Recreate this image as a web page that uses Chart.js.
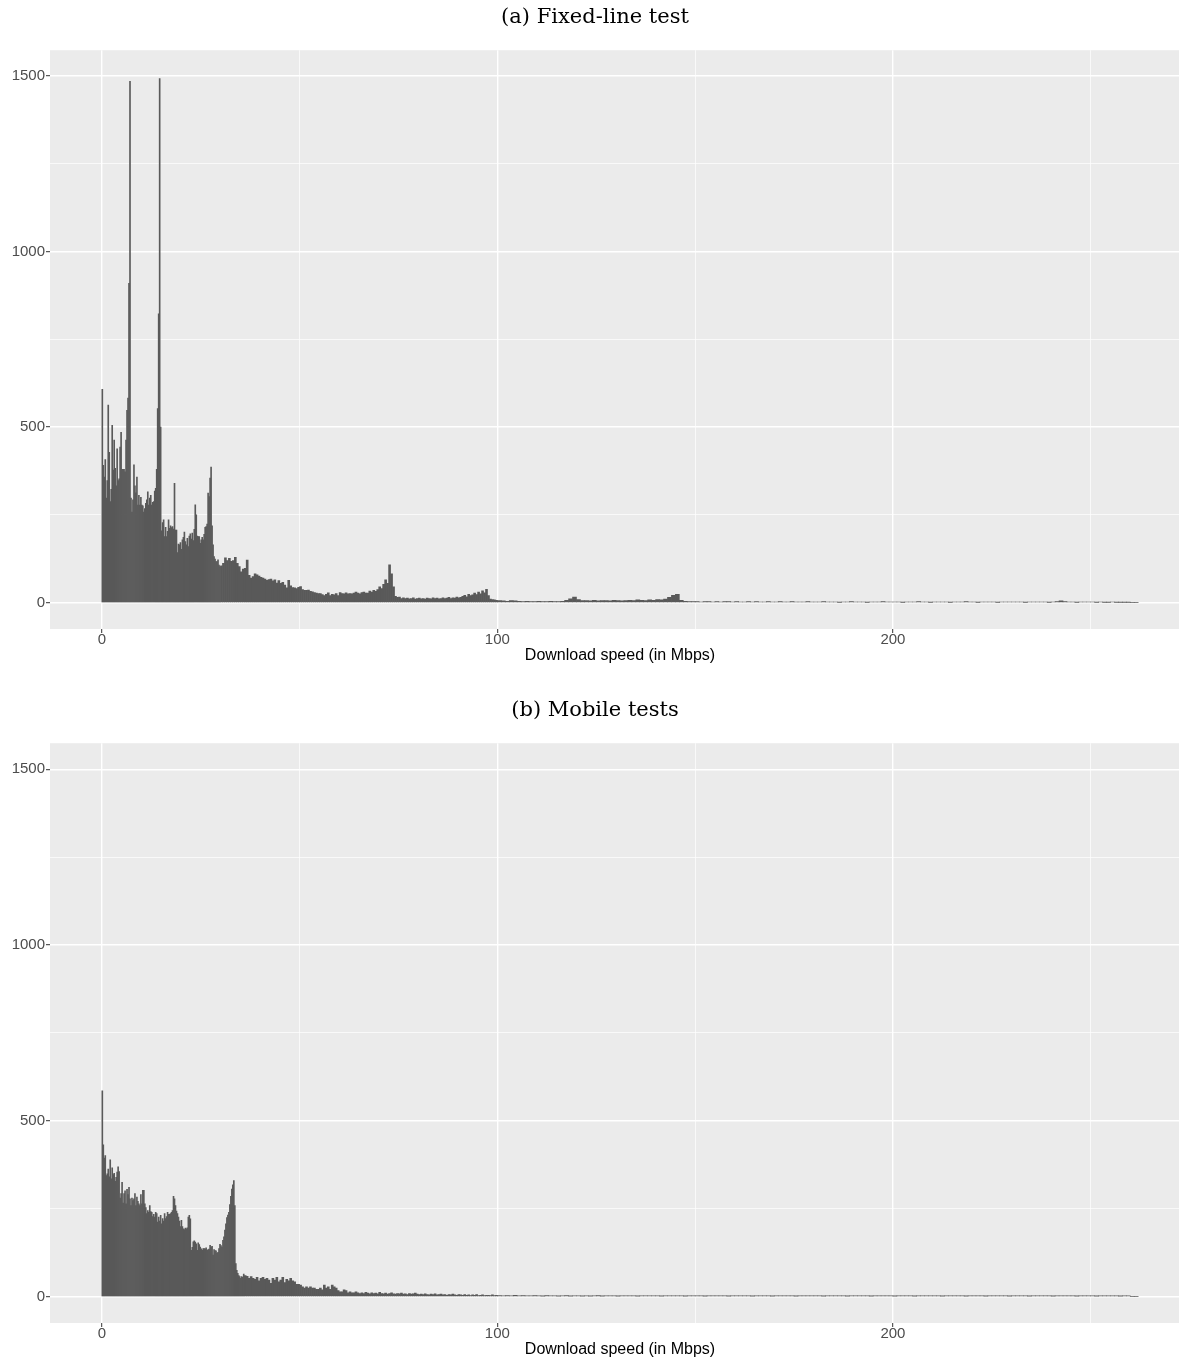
<!DOCTYPE html>
<html>
<head>
<meta charset="utf-8">
<script src="https://cdn.jsdelivr.net/npm/chart.js@4.4.1/dist/chart.umd.min.js"></script>
<style>
  html, body { margin: 0; padding: 0; background: #ffffff; overflow: hidden; }
  body { width: 1179px; height: 1361px; position: relative; }
  canvas { position: absolute; left: 0; }
  #fixedChart { top: 0; }
  #mobileChart { top: 679px; }
</style>
</head>
<body>
<canvas id="fixedChart" width="1190" height="667"></canvas>
<canvas id="mobileChart" width="1190" height="682"></canvas>
<script>
  // bin widths (Mbps) and where each run of bins starts
  const fineWidth = 0.25;
  const midWidth = 0.5;
  const tailWidth = 1;
  const fixedMidStart = 30;
  const mobileMidStart = 36;
  const tailStart = 100;

  // (a) fixed-line: counts per bin, 0-30 Mbps
  const fixedFine = [
    608, 391, 358, 408, 298, 348, 563, 428, 288, 323,
    505, 378, 463, 383, 333, 438, 348, 353, 443, 485,
    380, 380, 380, 373, 463, 548, 583, 910, 1485, 298,
    258, 293, 393, 333, 313, 358, 278, 306, 278, 300,
    278, 276, 258, 268, 283, 293, 316, 278, 298, 306,
    278, 286, 288, 318, 326, 380, 553, 823, 1493, 500,
    205, 228, 236, 188, 215, 188, 203, 236, 212, 219,
    214, 217, 210, 340, 207, 207, 143, 167, 165, 171,
    152, 179, 186, 201, 174, 165, 183, 160, 190, 196,
    181, 198, 177, 209, 279, 250, 190, 188, 188, 169,
    179, 186, 179, 195, 215, 217, 224, 312, 302, 355,
    386, 219, 165, 131, 124, 117, 117, 122, 107, 103
  ];
  // 30-100 Mbps
  const fixedMid = [
    105, 112, 128, 120, 126, 118, 120, 129, 112, 103,
    88, 96, 98, 121, 78, 70, 74, 82, 79, 76,
    72, 70, 67, 64, 66, 67, 62, 65, 56, 63,
    55, 58, 50, 42, 64, 48, 43, 42, 40, 44,
    46, 37, 35, 35, 36, 32, 31, 29, 27, 26,
    26, 23, 20, 24, 28, 20, 24, 22, 26, 20,
    29, 26, 25, 28, 25, 26, 25, 27, 30, 27,
    25, 29, 30, 27, 27, 33, 30, 35, 32, 37,
    45, 40, 52, 65, 55, 108, 82, 45, 18, 15,
    16, 12, 14, 12, 13, 11, 12, 14, 10, 12,
    13, 11, 12, 10, 13, 12, 11, 14, 12, 13,
    11, 12, 14, 12, 13, 15, 12, 14, 13, 16,
    14, 15, 18, 21, 17, 24, 20, 22, 27, 23,
    30, 25, 34, 28, 38, 20, 10, 9, 8, 7
  ];
  // 100-262 Mbps
  const fixedTail = [
    6, 5, 4, 6, 5, 4, 3, 4, 3, 3,
    4, 3, 3, 4, 3, 3, 4, 7, 11, 16,
    9, 6, 6, 5, 7, 5, 6, 6, 5, 7,
    6, 5, 6, 7, 6, 8, 7, 6, 8, 7,
    9, 8, 10, 15, 21, 24, 7, 4, 3, 3,
    3, 2, 3, 3, 2, 3, 2, 3, 3, 2,
    3, 2, 2, 3, 2, 3, 2, 2, 3, 2,
    2, 3, 2, 2, 3, 2, 2, 2, 3, 2,
    2, 2, 3, 2, 2, 2, 1, 2, 2, 3,
    2, 2, 2, 1, 2, 2, 2, 3, 2, 2,
    2, 2, 1, 2, 2, 2, 3, 2, 2, 1,
    2, 2, 2, 2, 1, 2, 2, 2, 3, 2,
    2, 1, 2, 2, 2, 2, 1, 2, 2, 2,
    2, 2, 2, 1, 2, 2, 2, 2, 2, 1,
    2, 3, 5, 3, 2, 2, 1, 2, 2, 2,
    2, 1, 2, 1, 1, 2, 1, 1, 1, 1,
    0, 0
  ];

  // (b) mobile: 0-36 Mbps
  const mobileFine = [
    585, 432, 394, 401, 344, 349, 363, 341, 389, 335,
    366, 347, 351, 328, 339, 354, 369, 356, 280, 293,
    325, 266, 293, 301, 264, 305, 290, 311, 278, 259,
    280, 273, 278, 293, 259, 283, 271, 264, 259, 290,
    264, 302, 302, 264, 253, 236, 245, 240, 259, 242,
    240, 228, 234, 226, 240, 236, 212, 226, 215, 231,
    207, 222, 215, 236, 222, 228, 240, 234, 234, 236,
    240, 245, 285, 278, 259, 243, 236, 226, 215, 199,
    217, 199, 193, 191, 195, 193, 196, 226, 231, 221,
    132, 140, 156, 159, 155, 150, 132, 153, 148, 141,
    136, 132, 137, 137, 136, 139, 132, 134, 135, 146,
    141, 143, 118, 134, 131, 130, 123, 126, 137, 149,
    145, 141, 160, 170, 189, 207, 225, 232, 240, 262,
    285, 306, 318, 330, 259, 94, 75, 66, 60, 57,
    52, 57, 55, 64
  ];
  // 36-100 Mbps
  const mobileMid = [
    60, 58, 52, 57, 52, 49, 55, 45, 52, 55,
    49, 52, 47, 38, 52, 47, 55, 42, 47, 55,
    40, 49, 45, 52, 45, 42, 35, 35, 33, 28,
    24, 28, 24, 28, 24, 24, 21, 21, 24, 19,
    33, 24, 28, 21, 33, 28, 24, 17, 14, 14,
    19, 17, 11, 14, 11, 11, 14, 11, 9, 11,
    9, 12, 10, 8, 11, 9, 10, 8, 12, 9,
    8, 10, 7, 9, 11, 8, 7, 9, 8, 10,
    7, 8, 6, 9, 7, 8, 10, 7, 6, 7,
    6, 8, 6, 5, 7, 6, 8, 5, 6, 7,
    5, 6, 4, 6, 5, 7, 5, 4, 6, 5,
    4, 6, 4, 5, 3, 5, 4, 6, 3, 4,
    5, 3, 4, 4, 3, 5, 3, 4
  ];
  // 100-262 Mbps
  const mobileTail = [
    3, 2, 3, 2, 4, 2, 3, 2, 2, 3,
    2, 1, 3, 2, 2, 1, 2, 3, 1, 2,
    2, 1, 2, 1, 2, 3, 1, 2, 2, 2,
    1, 2, 2, 2, 2, 1, 2, 2, 2, 2,
    2, 1, 2, 2, 2, 2, 2, 1, 2, 2,
    2, 2, 1, 2, 2, 2, 2, 2, 1, 2,
    2, 2, 2, 2, 1, 2, 2, 2, 2, 1,
    2, 2, 2, 2, 2, 1, 2, 2, 2, 2,
    2, 2, 1, 2, 2, 2, 2, 2, 1, 2,
    2, 2, 2, 2, 1, 2, 2, 2, 2, 2,
    1, 2, 2, 2, 2, 1, 2, 2, 2, 2,
    2, 2, 1, 2, 2, 2, 2, 2, 1, 2,
    2, 2, 2, 1, 2, 2, 2, 2, 2, 1,
    2, 2, 2, 2, 1, 2, 2, 2, 2, 2,
    1, 2, 2, 2, 2, 2, 1, 2, 2, 2,
    2, 1, 2, 2, 2, 2, 2, 1, 2, 2,
    0, 0
  ];

  // axes
  const xTicks = [0, 50, 100, 150, 200, 250];
  const xLabels = [0, 100, 200];
  const yTicks = [0, 250, 500, 750, 1000, 1250, 1500];
  const yLabels = [0, 500, 1000, 1500];
  const xMin = -13.1, xMax = 275.1;
  const yMin = -75, yMax = 1574;

  const toPoints = (values, start, width) =>
    values.map((v, i) => ({ x: start + (i + 0.5) * width, y: v }));

  // major ticks get labels, tick marks and wider grid lines
  const isMajor = (c, labels) => !!(c && c.tick && labels.includes(c.tick.value));

  // grey ggplot panel behind the grid
  const panelBg = {
    id: 'panelBg',
    beforeDraw(chart) {
      const { ctx, chartArea: a } = chart;
      ctx.save();
      ctx.fillStyle = '#EBEBEB';
      ctx.fillRect(a.left, a.top, a.right - a.left, a.bottom - a.top);
      ctx.restore();
    }
  };

  const tickFont = { family: 'Liberation Sans', size: 15, lineHeight: 1 };

  function makeChart(id, title, titlePadding, parts) {
    return new Chart(document.getElementById(id), {
      type: 'bar',
      data: {
        datasets: parts.map(p => ({
          data: toPoints(p.values, p.start, p.width),
          backgroundColor: '#595959',
          borderWidth: 0,
          grouped: false,
          categoryPercentage: 1,
          barPercentage: p.width / fineWidth,
          inflateAmount: 0.33
        }))
      },
      options: {
        responsive: false,
        animation: false,
        layout: { padding: 0 },
        plugins: {
          legend: { display: false },
          tooltip: { enabled: false },
          title: {
            display: true,
            text: title,
            color: '#000000',
            font: { family: 'DejaVu Serif', size: 21, weight: 'normal' },
            padding: titlePadding
          }
        },
        scales: {
          x: {
            type: 'linear',
            min: xMin,
            max: xMax,
            bounds: 'data',
            offset: false,
            afterBuildTicks: s => { s.ticks = xTicks.map(v => ({ value: v })); },
            afterFit: s => { s.height = 38; },
            border: { display: false },
            grid: {
              offset: false,
              color: '#FFFFFF',
              lineWidth: c => isMajor(c, xLabels) ? 1.4 : 0.7,
              tickColor: c => isMajor(c, xLabels) ? '#333333' : 'rgba(0,0,0,0)',
              tickWidth: 1,
              tickLength: 4
            },
            ticks: {
              autoSkip: false,
              maxRotation: 0,
              padding: -1,
              color: '#4D4D4D',
              font: tickFont,
              callback: v => xLabels.includes(v) ? String(v) : ''
            },
            title: {
              display: true,
              text: 'Download speed (in Mbps)',
              color: '#000000',
              font: { family: 'Liberation Sans', size: 16 },
              padding: { top: 0, bottom: 2 }
            }
          },
          y: {
            type: 'linear',
            min: yMin,
            max: yMax,
            bounds: 'data',
            afterBuildTicks: s => { s.ticks = yTicks.map(v => ({ value: v })); },
            afterFit: s => { s.width = 50; },
            border: { display: false },
            grid: {
              color: '#FFFFFF',
              lineWidth: c => isMajor(c, yLabels) ? 1.4 : 0.7,
              tickColor: c => isMajor(c, yLabels) ? '#333333' : 'rgba(0,0,0,0)',
              tickWidth: 1,
              tickLength: 4
            },
            ticks: {
              padding: 1,
              color: '#4D4D4D',
              font: tickFont,
              callback: v => yLabels.includes(v) ? String(v) : ''
            }
          }
        }
      },
      plugins: [panelBg]
    });
  }

  makeChart('fixedChart', '(a) Fixed-line test', { top: 5, bottom: 20 }, [
    { values: fixedFine, start: 0, width: fineWidth },
    { values: fixedMid, start: fixedMidStart, width: midWidth },
    { values: fixedTail, start: tailStart, width: tailWidth }
  ]);

  makeChart('mobileChart', '(b) Mobile tests', { top: 19, bottom: 20 }, [
    { values: mobileFine, start: 0, width: fineWidth },
    { values: mobileMid, start: mobileMidStart, width: midWidth },
    { values: mobileTail, start: tailStart, width: tailWidth }
  ]);
</script>
</body>
</html>
